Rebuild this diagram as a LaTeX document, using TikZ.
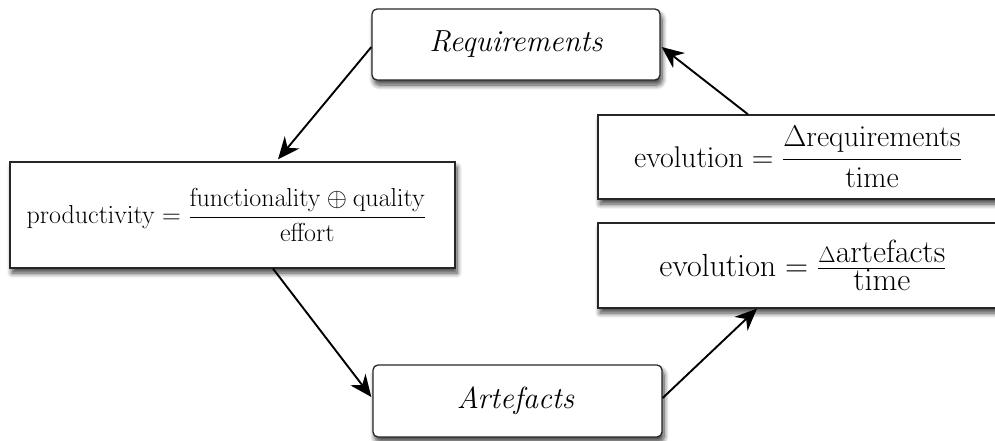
\RequirePackage{fix-cm}
\documentclass[tikz,border=0pt]{standalone}
\usepackage{amsmath}
\usetikzlibrary{arrows.meta,shadows.blur,calc}
\begin{document}
\begin{tikzpicture}[x=1pt,y=-1pt,
  box/.style={draw=black!85, line width=1.3pt, fill=white, inner sep=0pt,
    blur shadow={shadow xshift=2pt, shadow yshift=-5pt, shadow blur steps=8,
      shadow blur radius=5pt, shadow opacity=75}},
  rbox/.style={box, rounded corners=5pt},
  conn/.style={line width=1.9pt, -{Stealth[length=22pt,width=19pt,inset=7pt]}},
  titletext/.style={font=\fontsize{30.5}{34}\selectfont\itshape},
]
\useasboundingbox (0,0) rectangle (995,440);

\node[rbox, titletext, minimum width=288pt, minimum height=71pt] (req) at (516,44.5) {Requirements};
\node[rbox, titletext, minimum width=289pt, minimum height=72pt] (art) at (517.5,401) {Artefacts\hspace*{4pt}};

\node[box, minimum width=445pt, minimum height=106pt, font=\fontsize{26}{30}\selectfont] (prod) at (232.5,215)
  {$\displaystyle\mathrm{productivity} = \frac{\mathrm{functionality} \oplus \mathrm{quality}}{\mathrm{effort}}$\hspace*{12pt}};

\node[box, minimum width=400pt, minimum height=84pt, font=\fontsize{30}{33}\selectfont] (evor) at (798,157)
  {$\displaystyle\mathrm{evolution} = \frac{\Delta\mathrm{requirements}}{\mathrm{time}}$};

\node[box, minimum width=410pt, minimum height=85pt, font=\fontsize{32}{35}\selectfont] (evoa) at (803,265.5)
  {$\mathrm{evolution} = \genfrac{}{}{}{1}{\raisebox{1.5pt}{$\textstyle{\scriptstyle\Delta}\mathrm{artefacts}$}}{\raisebox{-2.5pt}{$\textstyle\mathrm{time}$}}$};

\draw[conn] ([yshift=-2.5pt]req.west) -- ([xshift=45.5pt,yshift=2pt]prod.north);
\draw[conn] ([xshift=40.5pt]prod.south) -- ([xshift=-1pt,yshift=4pt]art.west);
\draw[conn] ([yshift=3pt]art.east) -- ([xshift=-46pt]evoa.south);
\draw[conn] ([xshift=-50pt]evor.north) -- ([xshift=1pt,yshift=-2.5pt]req.east);
\end{tikzpicture}
\end{document}
